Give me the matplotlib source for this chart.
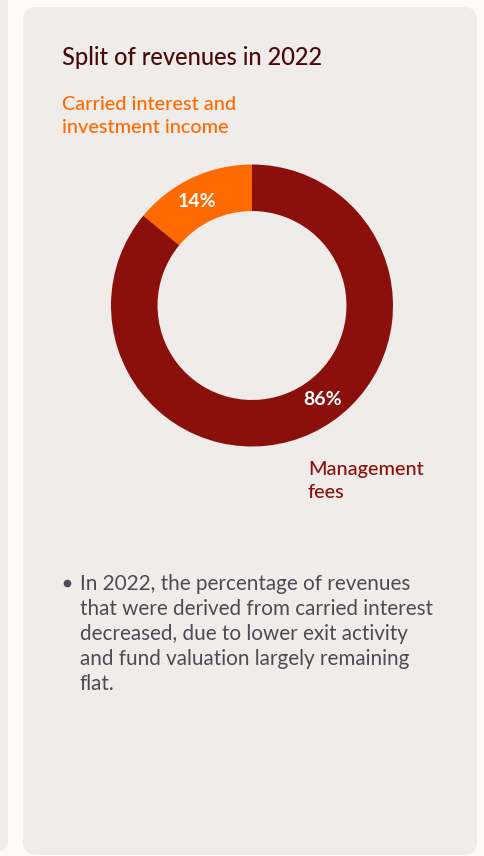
"""
Donut chart: split of revenues in 2022.
"""

import matplotlib.pyplot as plt
import numpy as np
from matplotlib.patches import FancyBboxPatch

plt.rcParams["font.family"] = ["Lato", "DejaVu Sans"]

segments = ["Carried interest and\ninvestment income", "Management\nfees"]
shares = [14, 86]
colors = ["#ff6a00", "#8b100c"]
label_angles = [118, -53]

title = "Split of revenues in 2022"
note = (
    "In 2022, the percentage of revenues\n"
    "that were derived from carried interest\n"
    "decreased, due to lower exit activity\n"
    "and fund valuation largely remaining\n"
    "flat."
)

W, H = 484, 856
fig = plt.figure(figsize=(W / 100, H / 100), dpi=100)
fig.patch.set_facecolor("#fcfbf9")

# background cards, pixel coordinates
bg = fig.add_axes([0, 0, 1, 1])
bg.set_xlim(0, W)
bg.set_ylim(H, 0)
bg.axis("off")

card = "#f0ece9"
bg.add_patch(FancyBboxPatch(
    (-40, -20), 48, 871,
    boxstyle="round,pad=0,rounding_size=9",
    facecolor=card, edgecolor="none",
))
bg.add_patch(FancyBboxPatch(
    (23, 7), 454, 848,
    boxstyle="round,pad=0,rounding_size=14",
    facecolor=card, edgecolor="none",
))

bg.text(62, 57, title, fontsize=17, color="#4a0a0a",
        va="center", ha="left", fontweight="medium")
bg.text(62, 116, segments[0], fontsize=14.3, color=colors[0],
        va="center", ha="left", linespacing=1.38, fontweight="medium")
bg.text(308, 481, segments[1], fontsize=14.3, color=colors[1],
        va="center", ha="left", linespacing=1.38, fontweight="medium")

bg.plot(67, 583, "o", color="#4b4b55", markersize=4.5)
bg.text(80, 634, note, fontsize=14.9, color="#4b4b55",
        va="center", ha="left", linespacing=1.3)

# donut
cx, cy, r = 252, 305.5, 141
ax = fig.add_axes([(cx - r) / W, 1 - (cy + r) / H, 2 * r / W, 2 * r / H])
ax.pie(
    shares,
    colors=colors,
    startangle=90,
    counterclock=True,
    radius=1,
    wedgeprops=dict(width=0.33, edgecolor="none"),
)
ax.set_xlim(-1, 1)
ax.set_ylim(-1, 1)
ax.set_aspect("equal")
ax.axis("off")

for share, ang in zip(shares, label_angles):
    t = np.deg2rad(ang)
    ax.text(0.835 * np.cos(t), 0.835 * np.sin(t), f"{share}%",
            color="white", fontsize=14, fontweight="bold",
            ha="center", va="center")

fig.savefig("out.png", dpi=100, facecolor=fig.get_facecolor())
plt.close(fig)
